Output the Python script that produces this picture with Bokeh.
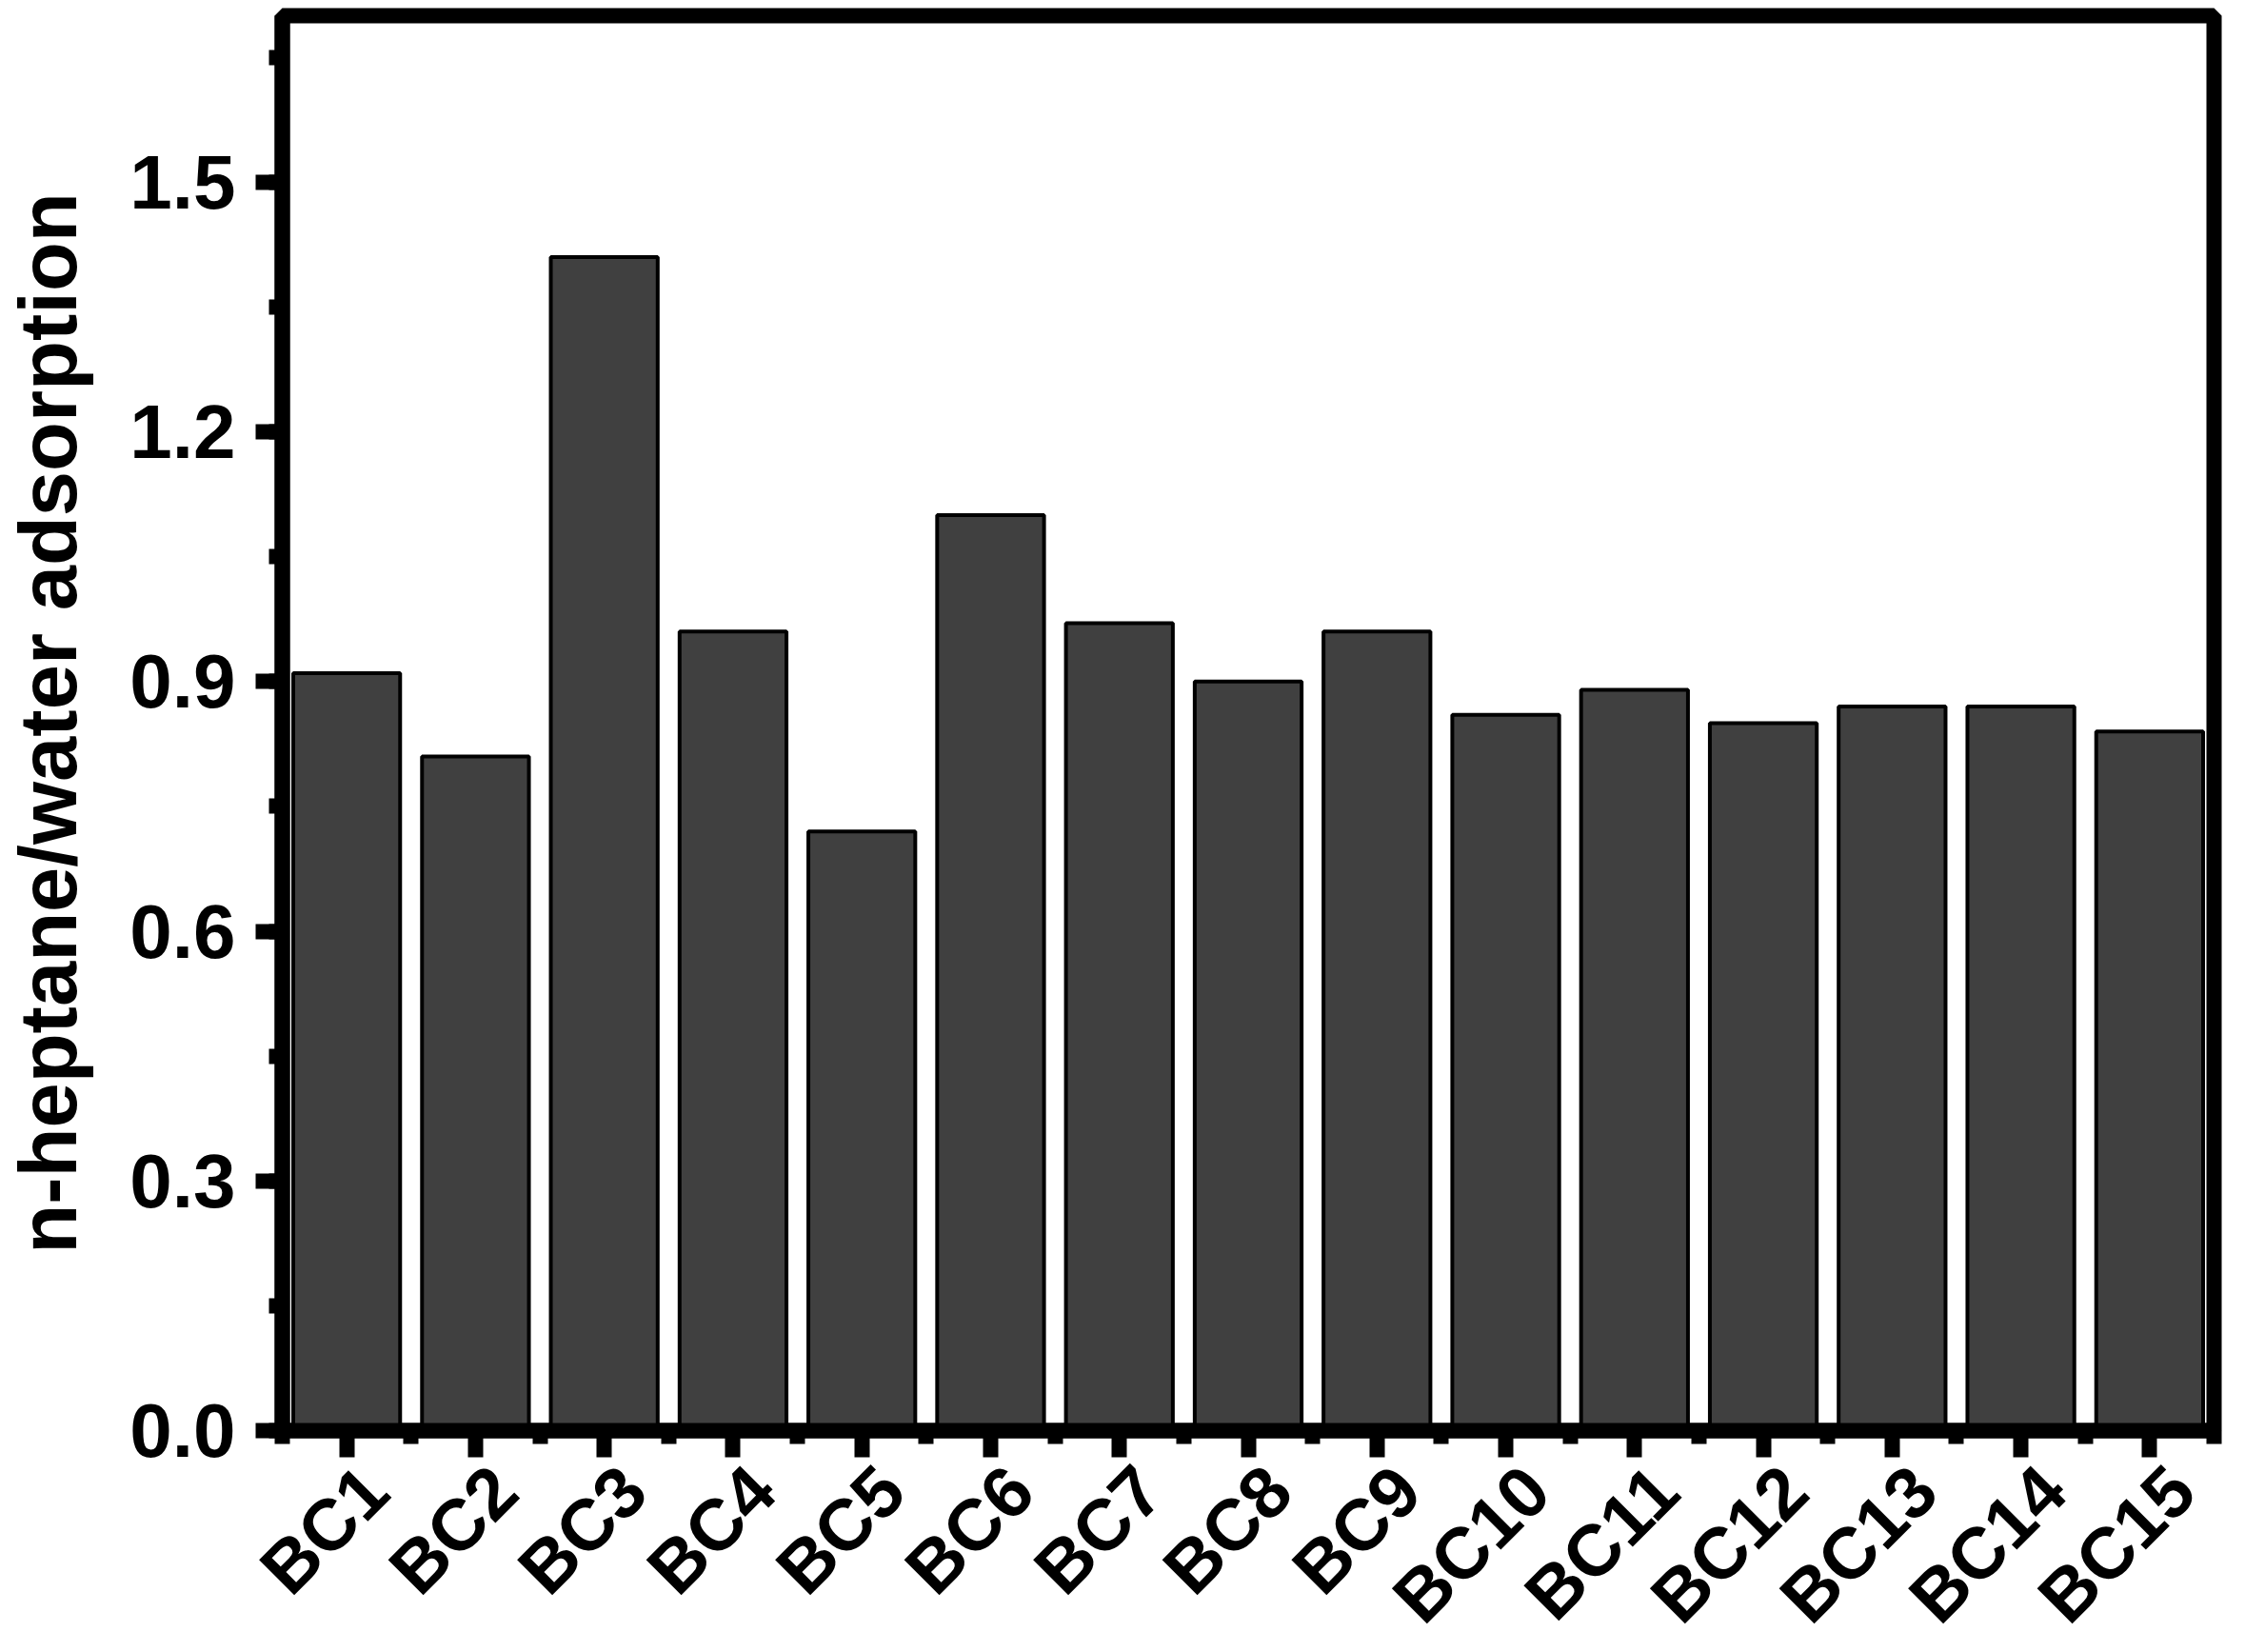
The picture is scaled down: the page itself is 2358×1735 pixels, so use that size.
from math import pi
from bokeh.plotting import figure
from bokeh.layouts import column, row
from bokeh.models import Range1d, FixedTicker, PrintfTickFormatter, ColumnDataSource
from bokeh.core.properties import value
from bokeh.embed import file_html
from bokeh.resources import INLINE

categories = ["BC1", "BC2", "BC3", "BC4", "BC5", "BC6", "BC7", "BC8",
              "BC9", "BC10", "BC11", "BC12", "BC13", "BC14", "BC15"]
values = [0.91, 0.81, 1.41, 0.96, 0.72, 1.10, 0.97, 0.90,
          0.96, 0.86, 0.89, 0.85, 0.87, 0.87, 0.84]
y_ticks = [0.0, 0.3, 0.6, 0.9, 1.2, 1.5]
y_label = "n-heptane/water adsorption"

FONT = "Liberation Sans"
W = 2340
LEFT, RIGHT, TOP, BOTTOM = 292, 15, 16, 46
FRAME_H = 1486
MAIN_H = TOP + FRAME_H + BOTTOM
OVERLAP = 28          # label strip slides up under the tick marks
LABEL_H = 1719 - MAIN_H + OVERLAP
LABEL_SHIFT = 0.25    # category names sit a little right of their ticks
LABEL_DROP = 32       # px below the top of the label strip

n = len(categories)
positions = [i + 0.5 for i in range(n)]
src = ColumnDataSource(dict(x=positions, top=values))

p = figure(width=W, height=MAIN_H, output_backend="svg", toolbar_location=None,
           x_range=Range1d(0, n), y_range=Range1d(0, 1.7),
           min_border_left=LEFT, min_border_top=TOP, min_border_right=RIGHT,
           min_border_bottom=BOTTOM)

p.vbar(x="x", top="top", width=0.83, bottom=0, source=src,
       fill_color="#404040", line_color="black", line_width=4)

p.xgrid.visible = False
p.ygrid.visible = False
p.outline_line_color = "black"
p.outline_line_width = 16
p.background_fill_color = "white"
p.border_fill_color = "white"

# x axis: tick marks (names are drawn in the strip below)
xa = p.xaxis[0]
xa.ticker = FixedTicker(ticks=positions, minor_ticks=list(range(n + 1)))
xa.major_label_text_font_size = "1px"
xa.major_label_text_color = None
xa.major_label_standoff = 0

# y axis
ya = p.yaxis[0]
minor = [round(0.15 * k, 2) for k in range(12)]
ya.ticker = FixedTicker(ticks=y_ticks, minor_ticks=minor)
ya.formatter = PrintfTickFormatter(format="%.1f")
ya.major_label_text_font = FONT
ya.major_label_text_font_style = "bold"
ya.major_label_text_font_size = "80px"
ya.major_label_text_color = "black"
ya.major_label_standoff = 21
ya.axis_label = y_label
ya.axis_label_text_font = FONT
ya.axis_label_text_font_style = "bold"
ya.axis_label_text_font_size = "85px"
ya.axis_label_text_color = "black"
ya.axis_label_standoff = 35

for ax in (xa, ya):
    ax.axis_line_width = 16
    ax.axis_line_color = "black"
    ax.major_tick_line_width = 16
    ax.minor_tick_line_width = 16
    ax.major_tick_line_color = "black"
    ax.minor_tick_line_color = "black"
    ax.major_tick_out = 28
    ax.major_tick_in = 0
    ax.minor_tick_out = 14
    ax.minor_tick_in = 0

# transparent strip with the rotated category names, on the same x scale as the bars
px_per_unit = (W - LEFT - RIGHT) / n
q = figure(width=W, height=LABEL_H, output_backend="svg", toolbar_location=None,
           x_range=Range1d(-LEFT / px_per_unit, n + RIGHT / px_per_unit),
           y_range=Range1d(-LABEL_H, 0),
           x_axis_type=None, y_axis_type=None,
           min_border_left=0, min_border_right=0, min_border_top=0, min_border_bottom=0)
q.xgrid.visible = False
q.ygrid.visible = False
q.outline_line_color = None
q.background_fill_color = None
q.border_fill_color = None

lab = ColumnDataSource(dict(x=[x + LABEL_SHIFT for x in positions],
                            y=[-LABEL_DROP] * n, name=categories))
q.text(x="x", y="y", text="name", source=lab, angle=pi / 4,
       text_align="right", text_baseline="middle",
       text_font=value(FONT), text_font_style="bold",
       text_font_size="76px", text_color="black")

layout = column(p, row(q, spacing=0, margin=(-OVERLAP, 0, 0, 0)), spacing=0)

open("out.html", "w").write(file_html(layout, INLINE))
